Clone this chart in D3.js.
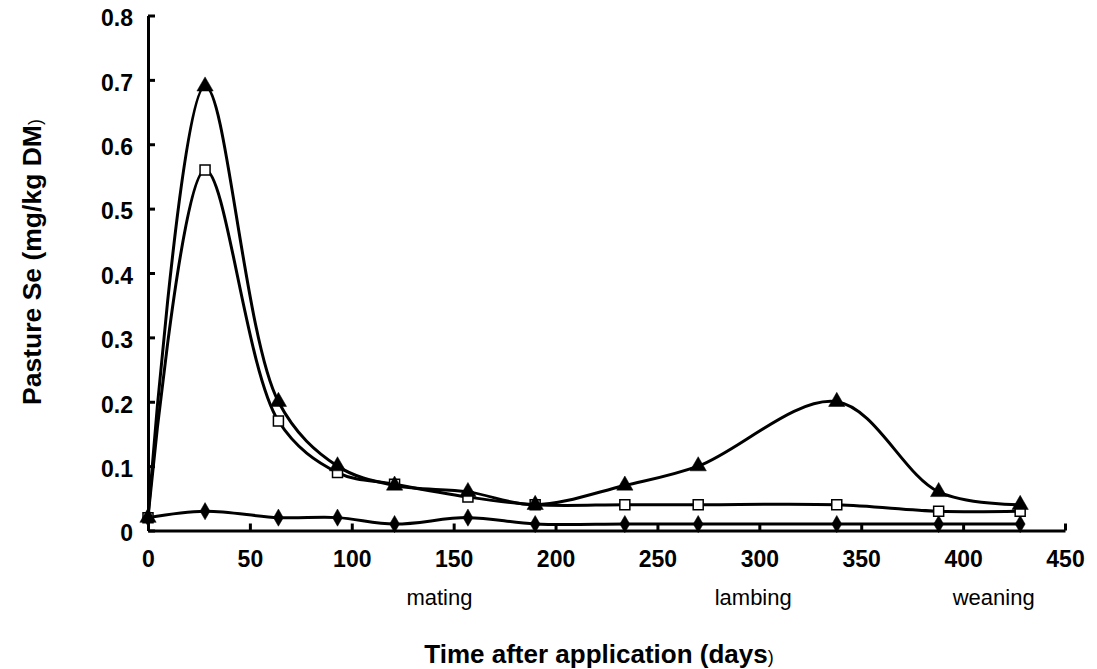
<!DOCTYPE html>
<html>
<head>
<meta charset="utf-8">
<script src="https://cdn.jsdelivr.net/npm/d3@7"></script>
<style>
  html, body { margin: 0; padding: 0; background: #fff; }
  svg { display: block; font-family: "Liberation Sans", Arial, sans-serif; }
</style>
</head>
<body>
<svg id="chart" width="1097" height="669"></svg>
<script>
// ---- data ----
const days = [0, 28, 64, 93, 121, 157, 190, 234, 270, 338, 388, 428];
const triangleSeries = [0.02, 0.69, 0.20, 0.10, 0.07, 0.06, 0.04, 0.07, 0.10, 0.20, 0.06, 0.04];
const squareSeries   = [0.02, 0.56, 0.17, 0.09, 0.072, 0.052, 0.04, 0.04, 0.04, 0.04, 0.03, 0.03];
const diamondSeries  = [0.02, 0.03, 0.02, 0.02, 0.01, 0.02, 0.01, 0.01, 0.01, 0.01, 0.01, 0.01];
const xTicks = [0, 50, 100, 150, 200, 250, 300, 350, 400, 450];
const yTicks = [0, 0.1, 0.2, 0.3, 0.4, 0.5, 0.6, 0.7, 0.8];
const eventNames = ["mating", "lambing", "weaning"];
const eventDays = [143, 297, 415];
const xTitle = "Time after application (days";
const yTitle = "Pasture Se (mg/kg DM";

// ---- layout ----
const svg = d3.select("#chart");
const x = d3.scaleLinear().domain([0, 450]).range([148, 1065]);
const y = d3.scaleLinear().domain([0, 0.8]).range([530.5, 15.5]);

// axes
const xAxis = d3.axisBottom(x).tickValues(xTicks).tickSizeInner(-7).tickSizeOuter(0)
  .tickPadding(20).tickFormat(d3.format("d"));
const gx = svg.append("g").attr("transform", `translate(0,${y(0)})`).call(xAxis);
gx.select(".domain").attr("stroke", "#000").attr("stroke-width", 3);
gx.selectAll(".tick line").attr("stroke", "#000").attr("stroke-width", 3);
gx.selectAll(".tick text").attr("fill", "#000").attr("font-size", 23).attr("font-weight", "bold")
  .attr("font-family", "Liberation Sans, Arial, sans-serif");

const yAxis = d3.axisLeft(y).tickValues(yTicks).tickSizeInner(-7).tickSizeOuter(0)
  .tickPadding(15).tickFormat(d => d === 0 ? "0" : d3.format(".1f")(d));
const gy = svg.append("g").attr("transform", `translate(${x(0)},0)`).call(yAxis);
gy.select(".domain").attr("stroke", "#000").attr("stroke-width", 3);
gy.selectAll(".tick line").attr("stroke", "#000").attr("stroke-width", 3);
gy.selectAll(".tick text").attr("fill", "#000").attr("font-size", 23).attr("font-weight", "bold")
  .attr("dy", "0.45em")
  .attr("font-family", "Liberation Sans, Arial, sans-serif");

// lines
const line = d3.line().x(d => x(d[0])).y(d => y(d[1])).curve(d3.curveCatmullRom.alpha(0.5));
const seriesList = [
  { vals: diamondSeries, marker: "diamond" },
  { vals: squareSeries, marker: "square" },
  { vals: triangleSeries, marker: "triangle" }
];
seriesList.forEach(s => {
  const pts = days.map((d, i) => [d, s.vals[i]]);
  const g = svg.append("g");
  g.append("path").attr("d", line(pts)).attr("fill", "none")
    .attr("stroke", "#000").attr("stroke-width", 3).attr("stroke-linejoin", "round");
  const sym = s.marker === "diamond" ? d3.symbol().type(d3.symbolDiamond).size(85)
            : s.marker === "square" ? d3.symbol().type(d3.symbolSquare).size(100)
            : d3.symbol().type(d3.symbolTriangle).size(115);
  g.selectAll("path.m").data(pts).enter().append("path").attr("class", "m")
    .attr("d", sym)
    .attr("transform", d => `translate(${x(d[0])},${y(d[1])})`)
    .attr("fill", s.marker === "square" ? "#fff" : "#000")
    .attr("stroke", "#000").attr("stroke-width", s.marker === "square" ? 1.5 : 0.5);
});

// event labels
svg.selectAll("text.ev").data(eventNames).enter().append("text").attr("class", "ev")
  .attr("x", (d, i) => x(eventDays[i])).attr("y", 605)
  .attr("text-anchor", "middle").attr("font-size", 22).attr("fill", "#000")
  .text(d => d);

// axis titles
const xt = svg.append("text").attr("x", 599).attr("y", 663).attr("text-anchor", "middle")
  .attr("font-size", 26).attr("font-weight", "bold").attr("fill", "#000");
xt.append("tspan").text(xTitle);
xt.append("tspan").attr("font-size", 18).attr("font-weight", "normal").text(")");

const yt = svg.append("text").attr("transform", "translate(41,262) rotate(-90)")
  .attr("text-anchor", "middle").attr("font-size", 26.5).attr("font-weight", "bold").attr("fill", "#000");
yt.append("tspan").text(yTitle);
yt.append("tspan").attr("font-size", 18).attr("font-weight", "normal").text(")");
</script>
</body>
</html>
